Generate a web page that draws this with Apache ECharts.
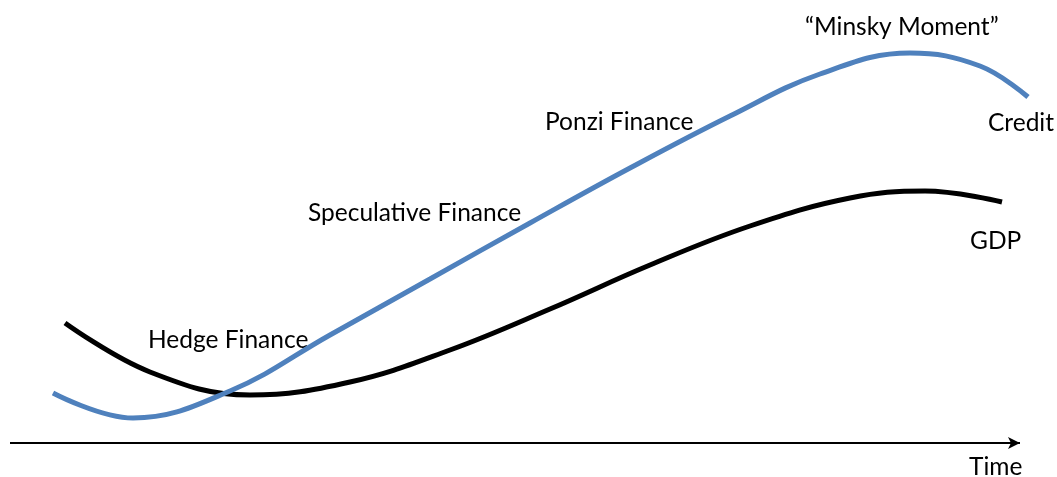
<!DOCTYPE html>
<html>
<head>
<meta charset="utf-8">
<script src="https://cdn.jsdelivr.net/npm/echarts@6/dist/echarts.min.js"></script>
<style>
  html, body { margin: 0; padding: 0; background: #fff; }
</style>
</head>
<body>
<div id="myChart" style="width: 1057px; height: 477px;"></div>
<script>
// time index (0 = start of axis) and level
const creditTime = [4.3, 12.3, 22, 32, 42, 52, 62, 72, 81, 90, 97, 101.8];
const creditLevel = [12.5, 6.25, 13, 27, 41, 55, 68.75, 81.75, 92.25, 97.5, 94.25, 86.5];

const gdpTime = [5.5, 14, 24, 34, 44, 54, 64, 74, 84, 91.5, 99.2];
const gdpLevel = [30, 17.75, 12, 15.25, 23.25, 33.5, 44.5, 54.25, 61.25, 63, 60.25];

const timeAxisEnd = 101;

const labelFont = "24.5px Lato, 'Noto Sans', sans-serif";

function pairs(xs, ys) {
  return xs.map((x, i) => [x, ys[i]]);
}

let myChart = echarts.init(document.getElementById("myChart"));
myChart.setOption({
  animation: false,
  grid: { left: 10, top: 43, width: 1030, height: 400 },
  xAxis: {
    type: "value",
    min: 0,
    max: 103,
    axisLine: { show: false },
    axisTick: { show: false },
    axisLabel: { show: false },
    splitLine: { show: false }
  },
  yAxis: {
    type: "value",
    min: 0,
    max: 100,
    axisLine: { show: false },
    axisTick: { show: false },
    axisLabel: { show: false },
    splitLine: { show: false }
  },
  series: [
    {
      name: "GDP",
      type: "line",
      smooth: 0.4,
      showSymbol: false,
      lineStyle: { color: "#000000", width: 5 },
      data: pairs(gdpTime, gdpLevel),
      // time axis drawn as an arrow along level 0
      markLine: {
        silent: true,
        symbol: ["none", "arrow"],
        symbolSize: [9, 12],
        label: { show: false },
        lineStyle: { color: "#000000", width: 2, type: "solid" },
        data: [[{ coord: [0, 0] }, { coord: [timeAxisEnd, 0] }]]
      }
    },
    {
      name: "Credit",
      type: "line",
      smooth: 0.4,
      showSymbol: false,
      lineStyle: { color: "#4F81BD", width: 5 },
      data: pairs(creditTime, creditLevel)
    }
  ],
  graphic: [
    { type: "text", x: 148, y: 340, style: { text: "Hedge Finance", font: labelFont, fill: "#000", textVerticalAlign: "middle" } },
    { type: "text", x: 308, y: 213, style: { text: "Speculative Finance", font: labelFont, fill: "#000", textVerticalAlign: "middle" } },
    { type: "text", x: 545, y: 122, style: { text: "Ponzi Finance", font: labelFont, fill: "#000", textVerticalAlign: "middle" } },
    { type: "text", x: 805, y: 27, style: { text: "\u201CMinsky Moment\u201D", font: labelFont, fill: "#000", textVerticalAlign: "middle" } },
    { type: "text", x: 988, y: 123, style: { text: "Credit", font: labelFont, fill: "#000", textVerticalAlign: "middle" } },
    { type: "text", x: 970, y: 241, style: { text: "GDP", font: labelFont, fill: "#000", textVerticalAlign: "middle" } },
    { type: "text", x: 969, y: 467, style: { text: "Time", font: labelFont, fill: "#000", textVerticalAlign: "middle" } }
  ]
});
</script>
</body>
</html>
